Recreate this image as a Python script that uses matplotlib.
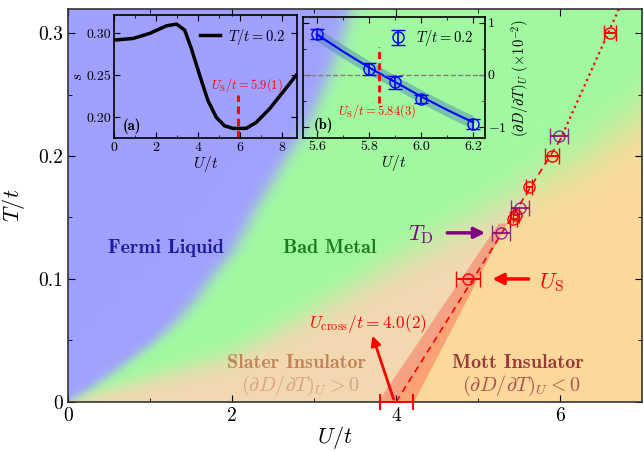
import numpy as np
import matplotlib
matplotlib.use("Agg")
import matplotlib.pyplot as plt
from matplotlib.patches import Polygon

plt.rcParams['font.family'] = 'serif'
plt.rcParams['font.serif'] = ['cmr10']
plt.rcParams['mathtext.fontset'] = 'cm'
plt.rcParams['axes.formatter.use_mathtext'] = True

# phase boundaries
fl_T = [0.0, 0.01, 0.025, 0.037, 0.05, 0.067, 0.08, 0.097, 0.11, 0.121, 0.14,
        0.156, 0.18, 0.2, 0.218, 0.24, 0.26, 0.29, 0.32]
fl_U = [0.0, 0.25, 0.58, 0.82, 1.08, 1.35, 1.52, 1.71, 1.86, 2.0, 2.16,
        2.28, 2.5, 2.68, 2.86, 3.02, 3.15, 3.32, 3.45]
ins_U = [0.0, 0.82, 1.96, 2.9, 4.0, 5.0, 5.5, 6.3, 7.0]
ins_T = [0.0, 0.0155, 0.037, 0.07, 0.113, 0.15, 0.17, 0.2, 0.235]

# U_S (red) and T_D (purple) points
us_U = [4.88, 5.43, 5.46, 5.62, 5.90, 6.61]
us_T = [0.100, 0.149, 0.152, 0.175, 0.200, 0.300]
us_err = [0.145, 0.04, 0.04, 0.04, 0.09, 0.07]
td_U = [5.28, 5.51, 5.99]
td_T = [0.1375, 0.158, 0.216]
td_err = [0.11, 0.11, 0.11]

# crossover line and its uncertainty band
dash_U = [4.0, 6.0]
dash_T = [0.0, 0.213]
dot_U = [6.0, 6.72]
dot_T = [0.213, 0.32]
band_U = [3.78, 4.22, 5.35, 5.25]
band_T = [0.0, 0.0, 0.145, 0.145]
ucross, ucross_err = 4.0, 0.2

# inset (a): s vs U at T/t = 0.2
a_U = [0.0, 0.92, 1.7, 2.5, 2.97, 3.36, 3.68, 4.08, 4.47, 4.87, 5.26, 5.66, 6.29, 6.76, 7.39, 8.03, 8.66]
a_s = [0.292, 0.294, 0.300, 0.309, 0.311, 0.304, 0.282, 0.250, 0.220, 0.200, 0.190, 0.187, 0.187, 0.194, 0.210, 0.230, 0.250]

# inset (b): (dD/dT)_U x 1e-2
b_U = [5.6, 5.8, 5.9, 6.0, 6.2]
b_D = [0.79, 0.11, -0.15, -0.47, -0.95]
b_err = [0.1, 0.12, 0.12, 0.08, 0.1]
fit_U = [5.6, 5.7, 5.8, 5.9, 6.0, 6.1, 6.2]
fit_D = [0.78, 0.45, 0.14, -0.14, -0.42, -0.68, -0.92]
fit_band = 0.13

blue = np.array([160, 160, 255]) / 255
green = np.array([160, 250, 160]) / 255
beige = np.array([243, 216, 177]) / 255
orange = np.array([253, 217, 155]) / 255

Ug = np.linspace(0, 7, 700)
Tg = np.linspace(0, 0.32, 400)
UU, TT = np.meshgrid(Ug, Tg)
w_fl = 1 / (1 + np.exp((UU - np.interp(TT, fl_T, fl_U)) / 0.06))
wid = 0.003 + 0.0015 * UU
w_ins = 1 / (1 + np.exp((TT - np.interp(UU, ins_U, ins_T)) / wid))
mott = (UU > np.interp(TT, dash_T + [0.32], dash_U + [7.0]))[..., None]
ins_col = np.where(mott, orange, beige)
img = w_fl[..., None] * blue + (1 - w_fl[..., None]) * (
    w_ins[..., None] * ins_col + (1 - w_ins[..., None]) * green)

fig = plt.figure(figsize=(6.44, 4.51), dpi=100)
ax = fig.add_axes([0.106, 0.109, 0.891, 0.872])
ax.imshow(img, extent=[0, 7, 0, 0.32], origin='lower', aspect='auto',
          interpolation='bilinear', zorder=0)
ax.add_patch(Polygon(list(zip(band_U, band_T)), closed=True, color='red',
                     alpha=0.25, lw=0, zorder=1))
ax.plot(dash_U, dash_T, color='red', ls='--', lw=1.2, dashes=(4, 3), zorder=2)
ax.plot(dot_U, dot_T, color='red', ls=':', lw=1.6, zorder=2)
ax.errorbar(us_U, us_T, xerr=us_err, fmt='o', mfc='none', mec='red', ecolor='red',
            ms=8, mew=1.0, capsize=6, elinewidth=1.5, capthick=1.5, zorder=3)
ax.errorbar(td_U, td_T, xerr=td_err, fmt='o', mfc='none', mec='purple', ecolor='purple',
            ms=8, mew=1.0, capsize=6, elinewidth=1.5, capthick=1.5, alpha=0.8, zorder=4)
ax.errorbar([ucross], [0.0], xerr=[ucross_err], fmt='none', ecolor='red',
            capsize=6, elinewidth=1.2, capthick=1.5, clip_on=False, zorder=5)

ax.text(1.19, 0.125, 'Fermi Liquid', fontfamily='cmb10', color='#1c1c9c',
        fontsize=14.5, ha='center', va='center')
ax.text(3.19, 0.125, 'Bad Metal', fontfamily='cmb10', color='#1f7a1f',
        fontsize=14.5, ha='center', va='center')
ax.text(2.79, 0.032, 'Slater Insulator', fontfamily='cmb10', color='#c4845a',
        fontsize=14.5, ha='center', va='center')
ax.text(2.83, 0.013, r'$(\partial D/\partial T)_U>0$', color='#dba47c',
        fontsize=14.5, ha='center', va='center')
ax.text(5.49, 0.032, 'Mott Insulator', fontfamily='cmb10', color='#9a3a3a',
        fontsize=14.5, ha='center', va='center')
ax.text(5.53, 0.013, r'$(\partial D/\partial T)_U<0$', color='#b05050',
        fontsize=14.5, ha='center', va='center')
ax.text(3.66, 0.064, r'$U_{\mathrm{cross}}/t=4.0(2)$', color='red',
        fontsize=12.5, ha='center', va='center')
ax.annotate('', xy=(3.7, 0.056), xytext=(3.98, 0.0),
            arrowprops=dict(arrowstyle='-|>', color='red', lw=2, mutation_scale=14))
ax.text(4.3, 0.136, r'$T_{\mathrm{D}}$', color='purple', fontsize=16,
        ha='center', va='center')
ax.annotate('', xy=(5.12, 0.1375), xytext=(4.59, 0.1375),
            arrowprops=dict(arrowstyle='-|>', color='purple', lw=2.5, mutation_scale=16))
ax.text(5.89, 0.097, r'$U_{\mathrm{S}}$', color='red', fontsize=16,
        ha='center', va='center')
ax.annotate('', xy=(5.14, 0.1), xytext=(5.65, 0.1),
            arrowprops=dict(arrowstyle='-|>', color='red', lw=2.5, mutation_scale=16))

ax.set_xlim(0, 7)
ax.set_ylim(0, 0.32)
ax.set_xticks([0, 2, 4, 6])
ax.set_xticklabels(['0', '2', '4', '6'])
ax.set_xticks([1, 3, 5], minor=True)
ax.set_yticks([0, 0.1, 0.2, 0.3])
ax.set_yticklabels(['0', '0.1', '0.2', '0.3'])
ax.set_yticks([0.05, 0.15, 0.25], minor=True)
ax.tick_params(which='both', direction='in', top=True, right=True, labelsize=14)
ax.tick_params(which='major', length=5)
ax.tick_params(which='minor', length=3)
for s in ax.spines.values():
    s.set_color('#333333')
    s.set_linewidth(1.2)
ax.set_xlabel(r'$U/t$', fontsize=16)
ax.xaxis.set_label_coords(0.465, -0.056)
ax.set_ylabel(r'$T/t$', fontsize=16, labelpad=8)

# inset (a)
axa = fig.add_axes([0.177, 0.693, 0.284, 0.274])
axa.set_facecolor('none')
axa.plot(a_U, a_s, color='black', lw=2.5, label=r'$T/t=0.2$')
axa.plot([5.9, 5.9], [0.175, 0.227], color='red', ls='--', lw=2.2, dashes=(2.5, 1.5))
axa.text(6.3, 0.239, r'$U_{\mathrm{S}}/t=5.9(1)$', color='red', fontsize=9,
         ha='center', va='center')
axa.text(0.1, 0.1, '(a)', fontfamily='cmb10', fontsize=10.5, transform=axa.transAxes,
         ha='center', va='center')
axa.set_xlim(0, 8.7)
axa.set_ylim(0.175, 0.322)
axa.set_xticks([0, 2, 4, 6, 8])
axa.set_xticks([1, 3, 5, 7], minor=True)
axa.set_yticks([0.2, 0.25, 0.3])
axa.set_yticklabels(['0.20', '0.25', '0.30'])
axa.tick_params(which='both', direction='in', top=True, right=True, labelsize=10, pad=2)
axa.tick_params(which='major', length=4)
axa.tick_params(which='minor', length=2)
axa.set_xlabel(r'$U/t$', fontsize=11, labelpad=0)
axa.set_ylabel(r'$s$', fontsize=11, labelpad=1)
axa.legend(loc='upper right', frameon=False, fontsize=10.5, handlelength=1.4,
           borderpad=0.3, handletextpad=0.5)
for s in axa.spines.values():
    s.set_linewidth(1.2)

# inset (b)
axb = fig.add_axes([0.4705, 0.693, 0.2826, 0.270])
axb.set_facecolor('none')
fit_arr = np.array(fit_D)
axb.fill_between(fit_U, fit_arr - fit_band, fit_arr + fit_band, color='steelblue',
                 alpha=0.45, lw=0)
axb.plot(fit_U, fit_D, color='blue', lw=1.5)
axb.axhline(0, color='gray', ls='--', lw=1)
axb.errorbar(b_U, b_D, yerr=b_err, fmt='o', mfc='none', mec='blue', ecolor='blue',
             ms=8, mew=1.0, capsize=5, elinewidth=1.2, capthick=1.2, label=r'$T/t=0.2$')
axb.plot([5.84, 5.84], [-0.55, 0.53], color='red', ls='--', lw=2, dashes=(2.5, 1.5))
axb.text(5.83, -0.71, r'$U_{\mathrm{S}}/t=5.84(3)$', color='red', fontsize=9,
         ha='center', va='center')
axb.text(0.11, 0.107, '(b)', fontfamily='cmb10', fontsize=10.5, transform=axb.transAxes,
         ha='center', va='center')
axb.set_xlim(5.547, 6.245)
axb.set_ylim(-1.23, 1.12)
axb.set_xticks([5.6, 5.8, 6.0, 6.2])
axb.set_xticklabels(['5.6', '5.8', '6.0', '6.2'])
axb.set_xticks([5.7, 5.9, 6.1], minor=True)
axb.set_yticks([-1, 0, 1])
axb.set_yticklabels([r'$-1$', '0', '1'])
axb.set_yticks([-0.5, 0.5], minor=True)
axb.yaxis.tick_right()
axb.yaxis.set_label_position('right')
axb.tick_params(which='both', direction='in', top=True, left=True, right=True,
                labelsize=10, pad=2)
axb.tick_params(which='major', length=4)
axb.tick_params(which='minor', length=2)
axb.set_xlabel(r'$U/t$', fontsize=11, labelpad=0)
axb.set_ylabel(r'$(\partial D/\partial T)_U\ (\times 10^{-2})$', fontsize=10.5,
               labelpad=2)
axb.legend(loc='upper right', frameon=False, fontsize=10.5, handlelength=1.4,
           borderpad=0.3, handletextpad=0.5)
for s in axb.spines.values():
    s.set_linewidth(1.2)

fig.savefig('out.png', dpi=100)
